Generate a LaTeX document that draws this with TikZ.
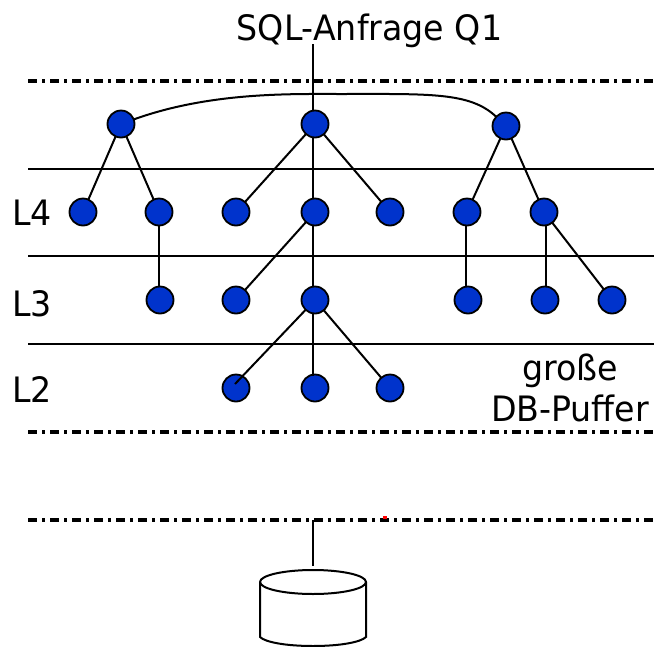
\documentclass[tikz,border=0pt]{standalone}
\usepackage{fontspec}
\setmainfont{DejaVu Sans}
\usetikzlibrary{shapes.geometric}
\definecolor{nodeblue}{RGB}{0,51,204}
\tikzset{
  tree/.style={inner sep=0pt,outer sep=0pt,minimum size=27pt,circle,draw=black,line width=1.8pt,fill=nodeblue},
  edge/.style={line width=2pt,black},
  level/.style={line width=1.9pt,black},
  bufferline/.style={line width=3.1pt,black,dash pattern=on 9pt off 5pt on 3pt off 5pt},
  lab/.style={inner sep=0pt,anchor=base,font=\fontsize{35}{35}\selectfont,xscale=0.95},
}
\begin{document}
\begin{tikzpicture}[x=1pt,y=-1pt]
\useasboundingbox (0,0) rectangle (654,646);
% level lines
\foreach \n/\y in {a/81,b/432,c/520}{
  \coordinate (\n l) at (28,\y); \coordinate (\n r) at (654,\y);
  \draw[bufferline] (\n l) -- (\n r);}
\foreach \n/\y in {d/169,e/256,f/344}{
  \coordinate (\n l) at (28,\y); \coordinate (\n r) at (654,\y);
  \draw[level] (\n l) -- (\n r);}
% labels
\node[lab] (q) at (369.5,40) {SQL-Anfrage Q1};
\node[lab] (l4) at (32,225.5) {L4};
\node[lab] (l3) at (32,316) {L3};
\node[lab] (l2) at (32,402) {L2};
\node[lab] (g1) at (570,380) {große};
\node[lab] (g2) at (570,421) {DB-Puffer};
% connectors under the nodes
\coordinate (qb) at (313,44);
\coordinate (r2t) at (313,112);
\draw[edge] (qb) -- (r2t);
% tree nodes
\foreach \n/\x/\y in {r1/121/124,r2/315/124,r3/506/126,
  m1/83/212,m2/159/212,m3/236/212,m4/315/212,m5/390/212,m6/467/212,m7/544/212,
  s1/160/300,s2/236/300,s3/315/300,s4/468/300,s5/545/300,s6/612/300,
  t1/236/388,t2/315/388,t3/390/388}{
  \node[tree] (\n) at (\x,\y) {};}
\draw[edge] (r1) .. controls (210,92) and (290,94) .. (340,94) .. controls (430,94) and (470,92) .. (r3);
\foreach \a/\b in {r1/m1,r1/m2,r2/m3,r2/m5,r3/m6,r3/m7,m4/s2,m7/s6,s3/t3}{
  \draw[edge] (\a) -- (\b);}
\coordinate (r2b) at (313,138);
\coordinate (m4t) at (313,198);
\coordinate (m4b) at (313,226);
\coordinate (s3t) at (313,286);
\coordinate (s3b) at (313,314);
\coordinate (t2t) at (313,376);
\coordinate (m2b) at (159,226);
\coordinate (s1t) at (159,286);
\coordinate (m6b) at (466,226);
\coordinate (s4t) at (466,286);
\coordinate (m7b) at (546,226);
\coordinate (s5t) at (546,286);
\draw[edge] (r2b) -- (m4t);
\draw[edge] (m4b) -- (s3t);
\draw[edge] (s3b) -- (t2t);
\draw[edge] (m2b) -- (s1t);
\draw[edge] (m6b) -- (s4t);
\draw[edge] (m7b) -- (s5t);
\coordinate (t1i) at (235,384);
\draw[edge] (s3) -- (t1i);
% disk
\coordinate (dt) at (313,566);
\coordinate (dc) at (313,520);
\draw[edge] (dc) -- (dt);
\draw[edge] (260,582) arc[x radius=53,y radius=12,start angle=180,end angle=540];
\draw[edge] (260,582) -- (260,637) .. controls (265,642) and (285,646) .. (313,646)
  .. controls (341,646) and (361,642) .. (366,637) -- (366,582);
% speck
\fill[red] (383,516) rectangle (387,519);
\end{tikzpicture}
\end{document}
